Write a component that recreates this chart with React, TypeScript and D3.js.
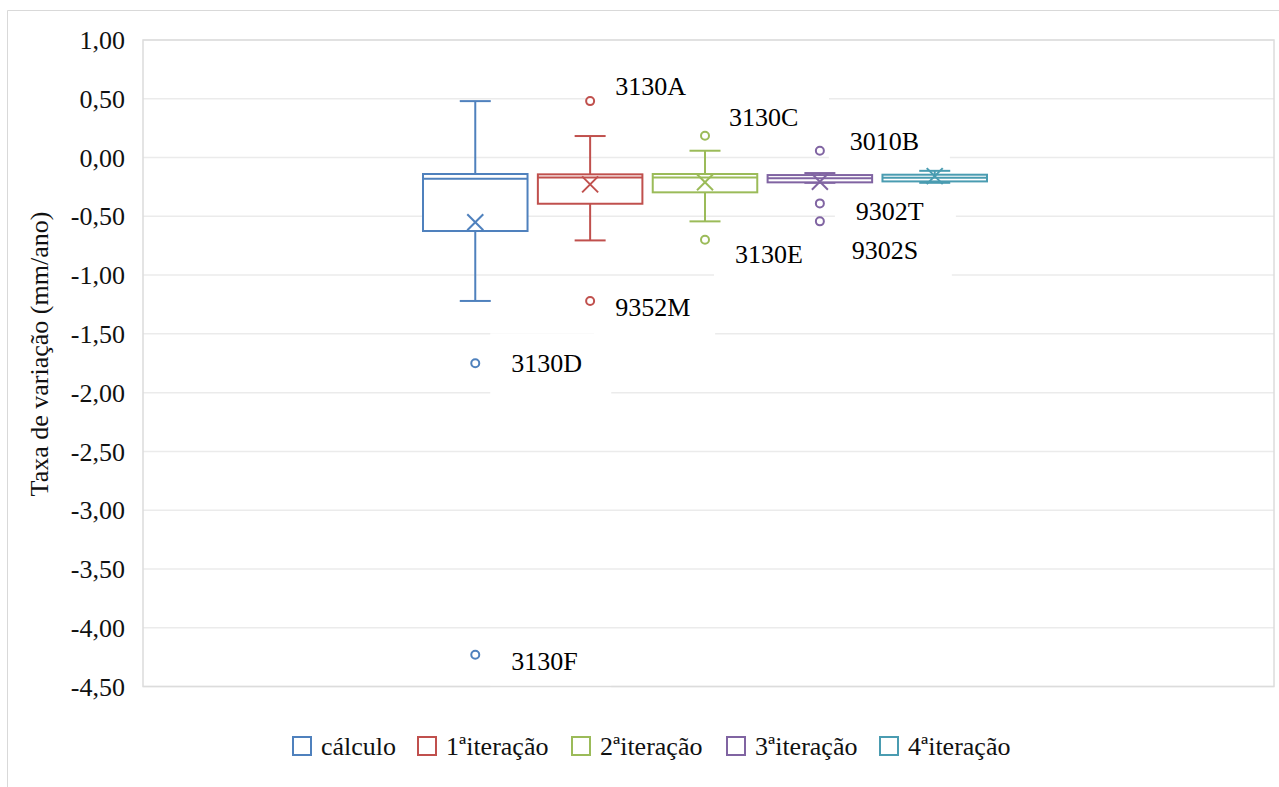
import React from "react";
import * as d3 from "d3";

// series (one box per series, single category)
const series = ["cálculo", "1ªiteração", "2ªiteração", "3ªiteração", "4ªiteração"];
const colors = ["#4f81bd", "#c0504d", "#9bbb59", "#8064a2", "#4a9cb1"];

const whiskerHigh = [0.48, 0.183, 0.058, -0.132, -0.113];
const q3 = [-0.14, -0.143, -0.14, -0.149, -0.146];
const median = [-0.18, -0.17, -0.17, -0.177, -0.172];
const q1 = [-0.625, -0.393, -0.296, -0.211, -0.203];
const whiskerLow = [-1.22, -0.705, -0.543, -0.215, -0.215];
const means = [-0.55, -0.228, -0.21, -0.206, -0.158];

// outliers: [series index, value, station]
const outliers: [number, number, string][] = [
  [0, -1.75, "3130D"],
  [0, -4.23, "3130F"],
  [1, 0.48, "3130A"],
  [1, -1.22, "9352M"],
  [2, 0.186, "3130C"],
  [2, -0.7, "3130E"],
  [3, 0.058, "3010B"],
  [3, -0.39, "9302T"],
  [3, -0.543, "9302S"],
];

// label placement offsets (px) from the point, manual like the original
const labelOffset: Record<string, [number, number]> = {
  "3130D": [36, 0],
  "3130F": [36, 6],
  "3130A": [25, -15],
  "9352M": [25, 6],
  "3130C": [24, -19],
  "3130E": [30, 14],
  "3010B": [30, -10],
  "9302T": [36, 8],
  "9302S": [32, 29],
};

const legendX = [293, 418, 572, 727, 880];

const W = 1279;
const H = 787;
const plot = { left: 143, right: 1274, top: 40, bottom: 686.5 };
const font = '"Liberation Serif", "DejaVu Serif", serif';

const locale = d3.formatLocale({
  decimal: ",",
  thousands: ".",
  grouping: [3],
  currency: ["", ""],
  minus: "-",
});
const fmt = locale.format(".2f");

export default function App() {
  const y = d3.scaleLinear().domain([-4.5, 1]).range([plot.bottom, plot.top]);
  const cx = 705;
  const x = d3
    .scaleBand<string>()
    .domain(series)
    .range([cx - 282, cx + 282])
    .paddingInner(0.09);
  const bw = x.bandwidth();
  const ticks = y.ticks(11);

  return (
    <div style={{ position: "absolute", left: 0, top: 0 }}>
      <svg width={W} height={H} style={{ display: "block", background: "#fff", fontFamily: font }}>
        {/* chart border */}
        <path d={`M7.5,${H} V10.5 H${W}`} fill="none" stroke="#d9d9d9" strokeWidth={1} />

        {/* gridlines */}
        {ticks.map((t) => (
          <line key={t} x1={plot.left} x2={plot.right} y1={y(t)} y2={y(t)} stroke="#ebebeb" strokeWidth={1.5} />
        ))}

        {/* label backgrounds */}
        {outliers.map(([s, v, name]) => {
          const px = (x(series[s]) as number) + bw / 2;
          const [dx, dy] = labelOffset[name];
          return (
            <rect key={"bg" + name} x={px + dx - 21} y={y(v) + dy - 30} width={121} height={61} fill="#fff" />
          );
        })}

        <rect
          x={plot.left}
          y={plot.top}
          width={plot.right - plot.left}
          height={plot.bottom - plot.top}
          fill="none"
          stroke="#dcdcdc"
          strokeWidth={1.5}
        />

        {/* tick labels */}
        {ticks.map((t) => (
          <text key={t} x={125} y={y(t)} dy="0.35em" textAnchor="end" fontSize={26} fill="#111">
            {fmt(t)}
          </text>
        ))}

        {/* axis title */}
        <text transform={`translate(48,354) rotate(-90)`} textAnchor="middle" fontSize={26} fill="#111">
          Taxa de variação (mm/ano)
        </text>

        {/* boxes */}
        {series.map((s, i) => {
          const x0 = x(s) as number;
          const mx = x0 + bw / 2;
          const c = colors[i];
          const cap = 15.5;
          const m = 8;
          return (
            <g key={s} stroke={c} strokeWidth={2} fill="none">
              <line x1={mx} x2={mx} y1={y(q3[i])} y2={y(whiskerHigh[i])} />
              <line x1={mx} x2={mx} y1={y(q1[i])} y2={y(whiskerLow[i])} />
              <line x1={mx - cap} x2={mx + cap} y1={y(whiskerHigh[i])} y2={y(whiskerHigh[i])} />
              <line x1={mx - cap} x2={mx + cap} y1={y(whiskerLow[i])} y2={y(whiskerLow[i])} />
              <rect x={x0} y={y(q3[i])} width={bw} height={y(q1[i]) - y(q3[i])} fill="#fff" />
              <line x1={x0} x2={x0 + bw} y1={y(median[i])} y2={y(median[i])} />
              <line x1={mx - m} x2={mx + m} y1={y(means[i]) - m} y2={y(means[i]) + m} />
              <line x1={mx - m} x2={mx + m} y1={y(means[i]) + m} y2={y(means[i]) - m} />
            </g>
          );
        })}

        {/* outliers */}
        {outliers.map(([s, v, name]) => {
          const px = (x(series[s]) as number) + bw / 2;
          const [dx, dy] = labelOffset[name];
          return (
            <g key={name}>
              <circle cx={px} cy={y(v)} r={4} fill="#fff" stroke={colors[s]} strokeWidth={2} />
              <text x={px + dx} y={y(v) + dy} dy="0.35em" fontSize={26} fill="#000">
                {name}
              </text>
            </g>
          );
        })}

        {/* legend */}
        {series.map((s, i) => (
          <g key={"lg" + s} transform={`translate(${legendX[i]},746)`}>
            <rect x={0} y={-9} width={18} height={18} fill="#fff" stroke={colors[i]} strokeWidth={2} />
            <text x={28} y={0} dy="0.35em" fontSize={26} fill="#111">
              {s}
            </text>
          </g>
        ))}
      </svg>
    </div>
  );
}
